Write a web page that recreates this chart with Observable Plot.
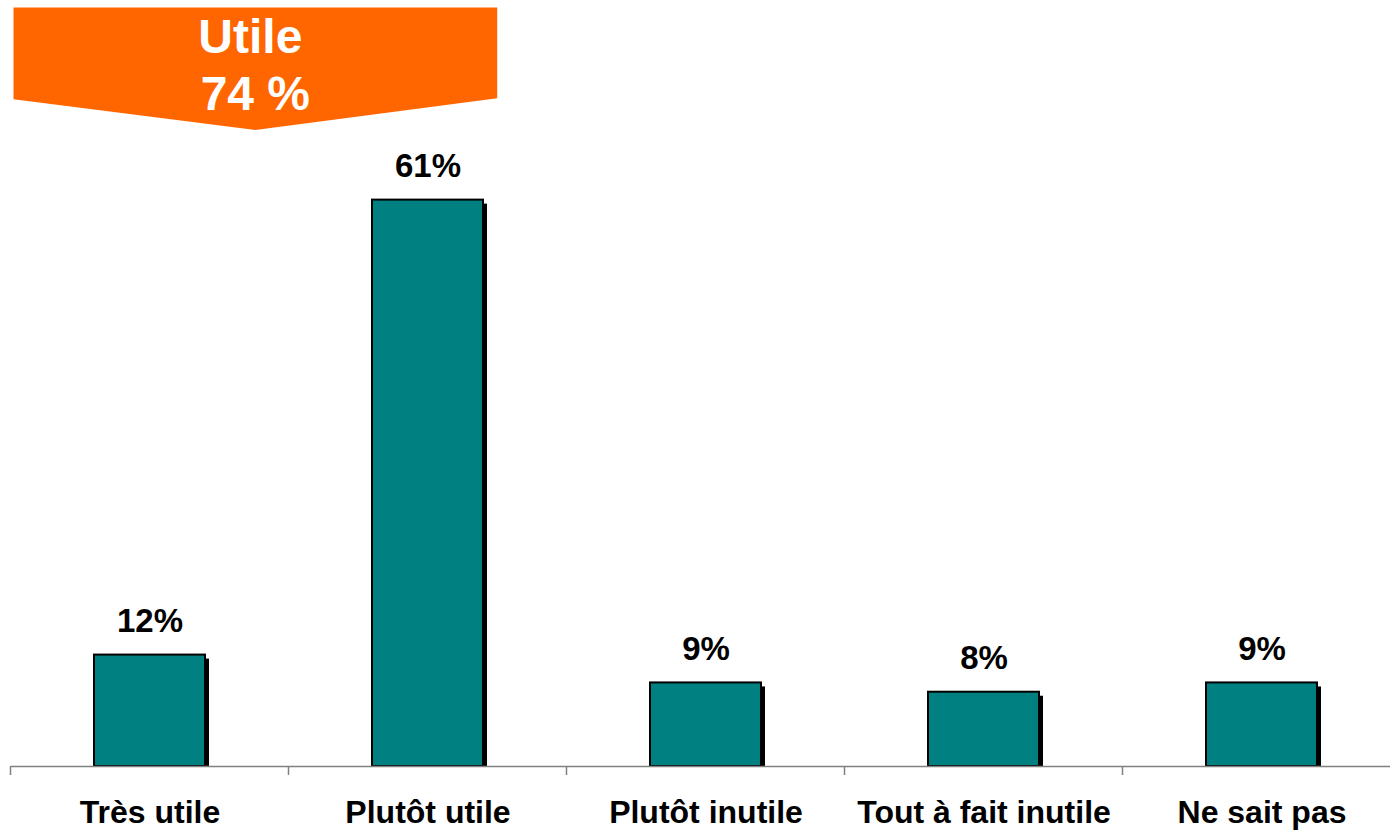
<!DOCTYPE html>
<html>
<head>
<meta charset="utf-8">
<script src="https://cdn.jsdelivr.net/npm/d3@7"></script>
<script src="https://cdn.jsdelivr.net/npm/@observablehq/plot@0.6"></script>
<style>
  html, body { margin: 0; padding: 0; background: #fff; overflow: hidden; }
  #chart svg { display: block; }
</style>
</head>
<body>
<div id="chart"></div>
<script>
const categories = ["Très utile", "Plutôt utile", "Plutôt inutile", "Tout à fait inutile", "Ne sait pas"];
const values = [12, 61, 9, 8, 9];
const bannerLabel = "Utile";
const bannerTotal = "74 %";
const bannerCategories = ["Très utile", "Plutôt utile"];

const data = categories.map((c, i) => ({category: c, value: values[i]}));

const FONT = "Arial, 'Liberation Sans', Helvetica, sans-serif";
const TEAL = "#008080";
const ORANGE = "#FF6600";

function bandTicks(index, scales, values, dims) {
  const x = scales.x;
  const step = x(categories[1]) - x(categories[0]);
  const bw = x.bandwidth();
  const pad = (step - bw) / 2;
  const g = d3.create("svg:g");
  const y0 = scales.y(0);
  const bounds = categories.map(c => x(c) - pad);
  for (const bx of bounds) {
    g.append("line")
      .attr("x1", bx).attr("x2", bx)
      .attr("y1", y0).attr("y2", y0 + 9)
      .attr("stroke", "#808080").attr("stroke-width", 1.5);
  }
  return g.node();
}

function banner(index, scales, values, dims) {
  const x = scales.x, y = scales.y;
  const step = x(categories[1]) - x(categories[0]);
  const bw = x.bandwidth();
  const pad = (step - bw) / 2;
  const left = x(bannerCategories[0]) - pad + 3;
  const right = x(bannerCategories[1]) + bw + pad * 0.17;
  const mid = (left + right) / 2;
  const top = y(81.7), shoulder = y(71.8), tip = y(68.5);
  const g = d3.create("svg:g");
  g.append("path")
    .attr("d", `M${left},${top}L${right},${top}L${right},${shoulder - 1}L${mid},${tip}L${left},${shoulder}Z`)
    .attr("fill", ORANGE);
  const t = g.append("text")
    .attr("fill", "#fff")
    .attr("font-family", FONT)
    .attr("font-weight", "bold")
    .attr("font-size", 48)
    .attr("text-anchor", "middle");
  t.append("tspan").attr("x", mid - 5).attr("y", y(76.8)).text(bannerLabel);
  t.append("tspan").attr("x", mid).attr("y", y(70.6)).text(bannerTotal);
  return g.node();
}

const chart = Plot.plot({
  width: 1390,
  height: 830,
  marginTop: 0,
  marginLeft: 11,
  marginRight: 0,
  marginBottom: 64,
  style: {fontFamily: FONT, background: "#fff"},
  x: {domain: categories, range: [11, 1401], paddingInner: 0.6, paddingOuter: 0.3, label: null},
  y: {domain: [0, 82.5], axis: null},
  marks: [
    Plot.barY(data, {x: "category", y: "value", fill: "black", dx: 4, insetTop: 4}),
    Plot.barY(data, {x: "category", y: "value", fill: TEAL, stroke: "black", strokeWidth: 2}),
    Plot.ruleY([0], {stroke: "#808080", strokeWidth: 1.5}),
    bandTicks,
    Plot.text(data, {x: "category", y: "value", text: d => d.value + "%", dy: -23, lineAnchor: "bottom",
      fontSize: 33, fontWeight: "bold", fill: "black"}),
    Plot.axisX({tickSize: 0, tickPadding: 34, fontSize: 32, fontWeight: "bold", label: null, color: "black"}),
    banner
  ]
});
document.getElementById("chart").appendChild(chart);
</script>
</body>
</html>
